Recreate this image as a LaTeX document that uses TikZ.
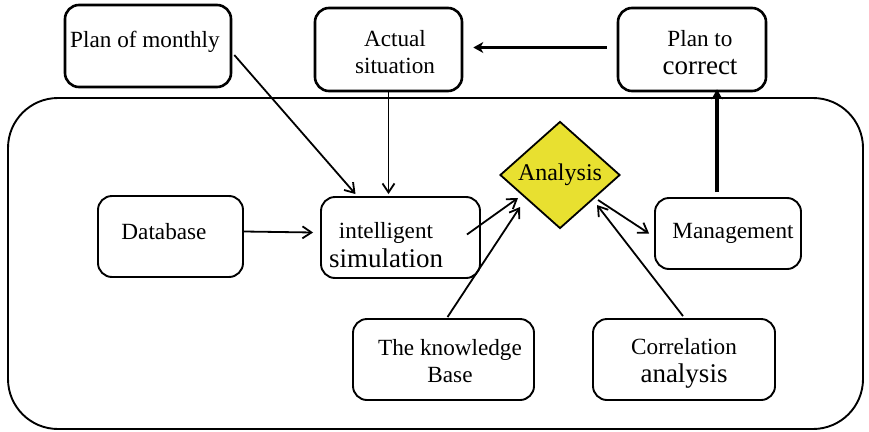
\documentclass[tikz,border=0pt]{standalone}
\usepackage{fontspec}
\setmainfont{Liberation Serif}
\usetikzlibrary{arrows.meta,shapes.geometric}
\definecolor{anayellow}{RGB}{232,224,48}
\tikzset{
  box/.style={draw, line width=1.9pt, rounded corners=14pt, inner sep=0pt},
  topbox/.style={box, line width=2.6pt},
  txt/.style={align=center, inner sep=0pt, font=\fontsize{23.2}{27}\selectfont},
  conn/.style={line width=1.8pt, -{Straight Barb[length=9pt,width=12pt,line width=1.8pt]}},
  thickconn/.style={line width=3.2pt, -{Stealth[length=10pt,width=11pt,inset=3pt]}},
}
\newcommand{\bigtxt}{\fontsize{27}{30}\selectfont}
\begin{document}
\begin{tikzpicture}[x=1pt,y=-1pt]
\useasboundingbox (0,0) rectangle (869,431);

% enclosing system frame
\draw[line width=1.9pt, rounded corners=50pt] (8,98) rectangle (863,429);

% boxes above the frame
\node[topbox, minimum width=166pt, minimum height=82pt] (monthly) at (148,46) {};
\node[txt] at (145,42) {Plan of monthly};
\node[topbox, minimum width=147pt, minimum height=83pt] (actual) at (388.5,49.5) {};
\node[txt] at (395,52) {Actual\\situation};
\node[topbox, minimum width=148pt, minimum height=83pt] (correct) at (692,49.5) {};
\node[txt] at (700,53) {Plan to\\[1pt]{\bigtxt correct}};

% boxes inside the frame
\node[box, minimum width=145pt, minimum height=81pt] (db) at (170.5,236.5) {};
\node[txt] at (164,232) {Database};
\node[box, minimum width=159pt, minimum height=81pt] (sim) at (400.5,237.5) {};
\node[txt] at (386,245) {intelligent\\[2pt]{\bigtxt simulation}};
\node[draw, line width=1.8pt, fill=anayellow, diamond, aspect=1.12,
      minimum width=120pt, minimum height=107pt, inner sep=0pt,
      font=\fontsize{24}{28}\selectfont] (ana) at (560,175) {Analysis};
\node[box, minimum width=146pt, minimum height=71pt] (mgmt) at (728,233.5) {};
\node[txt] at (733,233) {Management};
\node[box, minimum width=181pt, minimum height=81pt] (kb) at (443.5,359.5) {};
\node[txt] at (450,361) {The knowledge\\Base};
\node[box, minimum width=182pt, minimum height=81pt] (cor) at (684,359.5) {};
\node[txt] at (684,363) {Correlation\\[1pt]{\bigtxt analysis}};

% connectors
\draw[conn] ([shift={(2,9)}]monthly.east) -- ([shift={(-45,-2)}]sim.north);
\draw[conn] (actual.south) -- ([yshift=2pt]actual.south |- sim.north);
\draw[conn] ([shift={(0,-5)}]db.east) -- ([shift={(-7,-5)}]sim.west);
\draw[conn] ([shift={(-14,-3)}]sim.east) -- ([shift={(-42,23)}]ana.center);
\draw[conn] ([shift={(4,-1)}]kb.north) -- ([shift={(-40,32)}]ana.center);
\draw[conn] ([shift={(-1,-2)}]cor.north) -- ([shift={(37,30)}]ana.center);
\draw[conn] ([shift={(38,25)}]ana.center) -- ([shift={(-5,0)}]mgmt.west);
\draw[thickconn] ([shift={(-10,-2)}]correct.west) -- ([shift={(10,-2)}]actual.east);
\draw[thickconn] ([shift={(-11,-5)}]mgmt.north) -- ([shift={(25,-3)}]correct.south);
\end{tikzpicture}
\end{document}
